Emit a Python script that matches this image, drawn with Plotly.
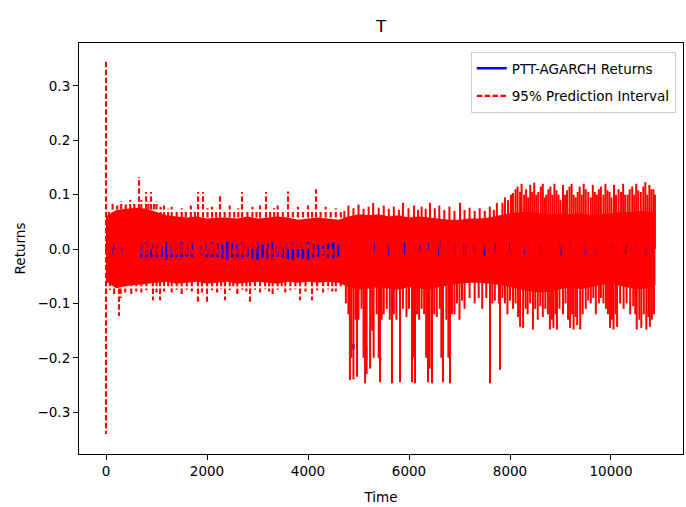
import plotly.graph_objects as go

# ---- data ----
# dense part of the 95% prediction-interval band (upper / lower envelope)
band_t = [0, 200, 400, 600, 800, 1000, 1200, 1400, 1600, 1800, 2000, 2200, 2400, 2600, 2800,
          3000, 3200, 3400, 3600, 3800, 4000, 4200, 4400, 4600, 4800, 5000, 5200, 5400, 5600,
          5800, 6000, 6200, 6400, 6600, 6800, 7000, 7200, 7400, 7600, 7800, 8000, 8200, 8400,
          8600, 8800, 9000, 9200, 9400, 9600, 9800, 10000, 10200, 10400, 10600, 10800, 10880]
band_hi = [0.060, 0.072, 0.074, 0.076, 0.074, 0.068, 0.062, 0.060, 0.058, 0.060, 0.056, 0.058,
           0.058, 0.056, 0.060, 0.056, 0.058, 0.060, 0.058, 0.054, 0.056, 0.058, 0.056, 0.054,
           0.060, 0.064, 0.062, 0.064, 0.060, 0.062, 0.058, 0.060, 0.058, 0.056, 0.054, 0.054,
           0.056, 0.056, 0.058, 0.062, 0.066, 0.068, 0.068, 0.066, 0.064, 0.066, 0.064, 0.066,
           0.062, 0.064, 0.066, 0.068, 0.068, 0.070, 0.068, 0.064]
band_lo = [-0.060, -0.072, -0.068, -0.066, -0.064, -0.062, -0.060, -0.064, -0.062, -0.060,
           -0.064, -0.062, -0.060, -0.064, -0.062, -0.060, -0.062, -0.064, -0.060, -0.062,
           -0.060, -0.062, -0.060, -0.062, -0.070, -0.075, -0.073, -0.070, -0.073, -0.075,
           -0.070, -0.073, -0.075, -0.070, -0.066, -0.064, -0.062, -0.062, -0.064, -0.066,
           -0.070, -0.074, -0.078, -0.080, -0.078, -0.074, -0.070, -0.074, -0.070, -0.066,
           -0.064, -0.068, -0.072, -0.074, -0.070, -0.066]

# excursions of the interval beyond the dense band (0-4700, 4700-7800, 7800-10880)
up_early_t = [0, 60, 130, 220, 300, 390, 480, 560, 653, 700, 792, 840, 891, 950, 1000, 1080,
              1150, 1230, 1300, 1400, 1500, 1580, 1680, 1760, 1822, 1921, 2010, 2100, 2180,
              2257, 2350, 2450, 2540, 2620, 2693, 2800, 2900, 2980, 3050, 3168, 3250, 3330,
              3400, 3500, 3604, 3700, 3800, 3900, 4000, 4080, 4158, 4250, 4350, 4450, 4550, 4650]
up_early_v = [0.345, 0.070, 0.085, 0.080, 0.088, 0.082, 0.090, 0.085, 0.132, 0.090, 0.105,
              0.088, 0.105, 0.085, 0.088, 0.078, 0.080, 0.074, 0.078, 0.072, 0.075, 0.070,
              0.080, 0.072, 0.105, 0.105, 0.075, 0.078, 0.070, 0.097, 0.072, 0.080, 0.070,
              0.075, 0.105, 0.072, 0.078, 0.070, 0.080, 0.105, 0.072, 0.075, 0.080, 0.070,
              0.106, 0.072, 0.078, 0.070, 0.080, 0.072, 0.110, 0.070, 0.078, 0.070, 0.075, 0.068]
dn_early_t = [0, 80, 160, 257, 290, 380, 500, 600, 700, 800, 930, 1000, 1070, 1150, 1230, 1300,
              1400, 1500, 1600, 1700, 1820, 1900, 2000, 2100, 2200, 2280, 2356, 2450, 2520,
              2600, 2700, 2780, 2851, 2950, 3050, 3150, 3230, 3300, 3400, 3480, 3550, 3650,
              3750, 3842, 3950, 4079, 4180, 4300, 4400, 4480, 4550, 4650]
dn_early_v = [-0.340, -0.075, -0.085, -0.123, -0.090, -0.080, -0.085, -0.078, -0.080, -0.076,
              -0.094, -0.080, -0.094, -0.078, -0.072, -0.080, -0.075, -0.085, -0.075, -0.078,
              -0.097, -0.080, -0.097, -0.076, -0.080, -0.074, -0.094, -0.076, -0.072, -0.085,
              -0.075, -0.078, -0.097, -0.075, -0.080, -0.074, -0.078, -0.085, -0.075, -0.072,
              -0.080, -0.076, -0.074, -0.094, -0.078, -0.094, -0.076, -0.080, -0.074, -0.078,
              -0.078, -0.072]
up_mid_t = [4720, 4800, 4900, 5000, 5100, 5200, 5290, 5400, 5500, 5600, 5700, 5800, 5880, 5990,
            6100, 6180, 6250, 6330, 6416, 6510, 6600, 6700, 6800, 6900, 7010, 7100, 7200, 7300,
            7400, 7500, 7600, 7680, 7740]
up_mid_v = [0.070, 0.080, 0.075, 0.082, 0.074, 0.078, 0.085, 0.076, 0.080, 0.074, 0.078, 0.072,
            0.085, 0.075, 0.080, 0.072, 0.078, 0.074, 0.085, 0.075, 0.080, 0.072, 0.078, 0.070,
            0.085, 0.072, 0.076, 0.070, 0.075, 0.070, 0.078, 0.072, 0.085]
dn_mid_t = [4750, 4800, 4830, 4860, 4900, 4940, 4970, 5000, 5060, 5100, 5130, 5160, 5230, 5270,
            5300, 5360, 5400, 5426, 5460, 5500, 5560, 5620, 5663, 5700, 5750, 5822, 5880, 5950,
            6000, 6059, 6090, 6119, 6160, 6200, 6250, 6300, 6340, 6376, 6410, 6455, 6500, 6550,
            6610, 6640, 6673, 6740, 6780, 6812, 6850, 6900, 6950, 7000, 7050, 7100, 7200, 7300,
            7380, 7450, 7530, 7604, 7650, 7700, 7780, 7802]
dn_mid_v = [-0.100, -0.120, -0.241, -0.200, -0.240, -0.130, -0.235, -0.130, -0.110, -0.200,
            -0.247, -0.230, -0.220, -0.150, -0.200, -0.120, -0.200, -0.245, -0.130, -0.120,
            -0.110, -0.130, -0.247, -0.120, -0.130, -0.245, -0.110, -0.125, -0.110, -0.245,
            -0.200, -0.247, -0.120, -0.130, -0.110, -0.120, -0.200, -0.245, -0.220, -0.247,
            -0.120, -0.125, -0.110, -0.200, -0.245, -0.130, -0.200, -0.247, -0.120, -0.120,
            -0.100, -0.130, -0.095, -0.110, -0.090, -0.100, -0.090, -0.110, -0.090, -0.247,
            -0.100, -0.095, -0.100, -0.222]
up_late_t = [7850, 7900, 7960, 8020, 8060, 8110, 8150, 8200, 8230, 8280, 8320, 8360, 8400, 8440,
             8480, 8520, 8560, 8610, 8650, 8690, 8720, 8760, 8800, 8840, 8880, 8920, 8960, 9000,
             9050, 9090, 9130, 9180, 9220, 9260, 9300, 9340, 9380, 9420, 9460, 9500, 9550, 9600,
             9640, 9680, 9720, 9760, 9800, 9850, 9890, 9930, 9970, 10010, 10060, 10100, 10150,
             10200, 10240, 10280, 10330, 10370, 10420, 10460, 10500, 10540, 10590, 10640,
             10680, 10720, 10760, 10800, 10840, 10870]
up_late_v = [0.085, 0.095, 0.090, 0.100, 0.103, 0.110, 0.115, 0.105, 0.120, 0.100, 0.110, 0.095,
             0.118, 0.105, 0.122, 0.100, 0.105, 0.115, 0.120, 0.095, 0.100, 0.110, 0.115, 0.100,
             0.120, 0.108, 0.100, 0.090, 0.118, 0.100, 0.108, 0.115, 0.120, 0.100, 0.095, 0.105,
             0.115, 0.100, 0.120, 0.110, 0.105, 0.095, 0.118, 0.105, 0.100, 0.110, 0.115, 0.100,
             0.120, 0.108, 0.105, 0.095, 0.118, 0.100, 0.110, 0.105, 0.120, 0.100, 0.100, 0.110,
             0.115, 0.100, 0.120, 0.108, 0.105, 0.115, 0.123, 0.100, 0.118, 0.110, 0.110, 0.100]
dn_late_t = [7850, 7900, 7950, 8000, 8060, 8110, 8160, 8200, 8260, 8310, 8350, 8400, 8455, 8500,
             8550, 8600, 8650, 8700, 8750, 8790, 8830, 8860, 8900, 8930, 8980, 9050, 9100, 9150,
             9190, 9230, 9260, 9300, 9330, 9390, 9440, 9500, 9550, 9600, 9650, 9700, 9760, 9800,
             9850, 9900, 9940, 9980, 10020, 10050, 10090, 10120, 10180, 10250, 10310, 10380,
             10440, 10480, 10510, 10560, 10600, 10650, 10700, 10740, 10770, 10810, 10850]
dn_late_v = [-0.090, -0.100, -0.120, -0.095, -0.110, -0.100, -0.125, -0.143, -0.145, -0.110,
             -0.120, -0.100, -0.148, -0.110, -0.130, -0.105, -0.125, -0.110, -0.120, -0.148,
             -0.130, -0.145, -0.120, -0.148, -0.110, -0.120, -0.100, -0.130, -0.145, -0.120,
             -0.148, -0.125, -0.140, -0.148, -0.120, -0.110, -0.095, -0.100, -0.090, -0.120,
             -0.100, -0.090, -0.100, -0.110, -0.120, -0.145, -0.130, -0.148, -0.120, -0.143,
             -0.100, -0.110, -0.100, -0.120, -0.105, -0.120, -0.148, -0.130, -0.145, -0.120,
             -0.148, -0.125, -0.143, -0.130, -0.120]

# visible parts of the returns series
ret_t = [150, 300, 700, 800, 900, 1000, 1100, 1200, 1300, 1400, 1500, 1600, 1700, 1900, 2000,
         2100, 2200, 2300, 2400, 2500, 2600, 2700, 2800, 2900, 3000, 3100, 3200, 3300, 3400,
         3500, 3600, 3700, 3800, 3900, 4000, 4100, 4200, 4300, 4400, 4500, 4600, 4900, 5150,
         5300, 5430, 5600, 5900, 6200, 6400, 6600, 6900, 7100, 7300, 7500, 7700, 8000, 8300,
         8600, 9000, 9200, 9500, 9700, 10000, 10300, 10500, 10700]
ret_hi = [0.008, 0.006, 0.010, 0.012, 0.008, 0.010, 0.006, 0.012, 0.008, 0.010, 0.012, 0.008,
          0.010, 0.006, 0.008, 0.012, 0.010, 0.008, 0.014, 0.010, 0.008, 0.012, 0.006, 0.010,
          0.012, 0.008, 0.010, 0.012, 0.006, 0.010, 0.008, 0.012, 0.010, 0.008, 0.014, 0.010,
          0.008, 0.006, 0.010, 0.012, 0.008, -0.175, -0.178, 0.010, -0.200, 0.008, 0.012,
          0.006, 0.010, 0.014, 0.008, 0.010, 0.006, 0.012, 0.008, 0.010, 0.012, 0.006, 0.010,
          0.014, 0.008, 0.006, 0.010, 0.008, 0.012, 0.006]
ret_lo = [-0.010, -0.008, -0.018, -0.020, -0.016, -0.018, -0.014, -0.020, -0.016, -0.018,
          -0.020, -0.014, -0.016, -0.012, -0.018, -0.020, -0.016, -0.018, -0.020, -0.016,
          -0.018, -0.020, -0.014, -0.018, -0.020, -0.016, -0.018, -0.020, -0.014, -0.016,
          -0.018, -0.020, -0.016, -0.018, -0.020, -0.016, -0.014, -0.012, -0.016, -0.018,
          -0.014, -0.185, -0.205, -0.010, -0.205, -0.012, -0.010, -0.014, -0.008, -0.012,
          -0.010, -0.014, -0.008, -0.012, -0.010, -0.012, -0.010, -0.014, -0.012, -0.008,
          -0.010, -0.014, -0.012, -0.010, -0.008, -0.012]

x_ticks = [0, 2000, 4000, 6000, 8000, 10000]
x_tick_text = ["0", "2000", "4000", "6000", "8000", "10000"]
y_ticks = [-0.3, -0.2, -0.1, 0.0, 0.1, 0.2, 0.3]
y_tick_text = ["\u22120.3", "\u22120.2", "\u22120.1", "0.0", "0.1", "0.2", "0.3"]

RED = "#ff0000"
BLUE = "#0000ff"
FONT = "DejaVu Sans"
DASH = "5.5px,2.4px"


def segments(ts, start, end):
    xs, ys = [], []
    for t, a, b in zip(ts, start, end):
        xs += [t, t, None]
        ys += [a, b, None]
    return xs, ys


def spikes(groups):
    xs, ys = [], []
    for ts, vs in groups:
        a, b = segments(ts, [0.0] * len(ts), vs)
        xs += a
        ys += b
    return xs, ys


fig = go.Figure()

# dense interval band
fig.add_trace(go.Scatter(x=band_t, y=band_lo, mode="lines", line=dict(width=0, color=RED),
                         showlegend=False, hoverinfo="skip"))
fig.add_trace(go.Scatter(x=band_t, y=band_hi, mode="lines", line=dict(width=0, color=RED),
                         fill="tonexty", fillcolor=RED, showlegend=False, hoverinfo="skip"))

# returns
rx, ry = segments(ret_t, ret_lo, ret_hi)
fig.add_trace(go.Scatter(x=rx, y=ry, mode="lines", line=dict(color=BLUE, width=2.5),
                         name="PTT-AGARCH Returns", legendgroup="a"))

# interval excursions where they crowd together (drawn as packed strokes)
cx, cy = spikes([(up_mid_t, up_mid_v), (dn_mid_t, dn_mid_v),
                 (up_late_t, up_late_v), (dn_late_t, dn_late_v)])
fig.add_trace(go.Scatter(x=cx, y=cy, mode="lines", line=dict(color=RED, width=2.0),
                         showlegend=False, hoverinfo="skip", legendgroup="b"))

# isolated interval excursions (dashed)
ex, ey = spikes([(up_early_t, up_early_v), (dn_early_t, dn_early_v)])
fig.add_trace(go.Scatter(x=ex, y=ey, mode="lines",
                         line=dict(color=RED, width=2.1, dash=DASH),
                         name="95% Prediction Interval", legendgroup="b"))

axis_common = dict(showline=True, linecolor="black", linewidth=1.1, mirror=True,
                   ticks="outside", ticklen=5, tickwidth=1.1, tickcolor="black",
                   showgrid=False, zeroline=False,
                   tickfont=dict(family=FONT, size=13.5, color="black"))

fig.update_xaxes(range=[-535, 11426], tickvals=x_ticks, ticktext=x_tick_text,
                 title=dict(text="Time", font=dict(family=FONT, size=13.5, color="black"),
                            standoff=14),
                 **axis_common)
fig.update_yaxes(range=[-0.377, 0.379], tickvals=y_ticks, ticktext=y_tick_text,
                 title=dict(text="Returns", font=dict(family=FONT, size=13.5, color="black"),
                            standoff=8),
                 **axis_common)

fig.update_layout(
    width=686, height=507,
    margin=dict(l=79, r=3, t=43, b=53),
    plot_bgcolor="white", paper_bgcolor="white",
    font=dict(family=FONT, size=13.5, color="black"),
    title=dict(text="T", x=0.5, xref="paper", y=1 - 26 / 507, yanchor="middle",
               xanchor="center", font=dict(family=FONT, size=16.7, color="black")),
    legend=dict(x=0.988, y=0.978, xanchor="right", yanchor="top", traceorder="grouped",
                tracegroupgap=7,
                bordercolor="#cccccc", borderwidth=1, bgcolor="rgba(255,255,255,0.8)",
                font=dict(family=FONT, size=13.5, color="black"), itemwidth=30),
    showlegend=True,
)

fig.write_html("out.html")
